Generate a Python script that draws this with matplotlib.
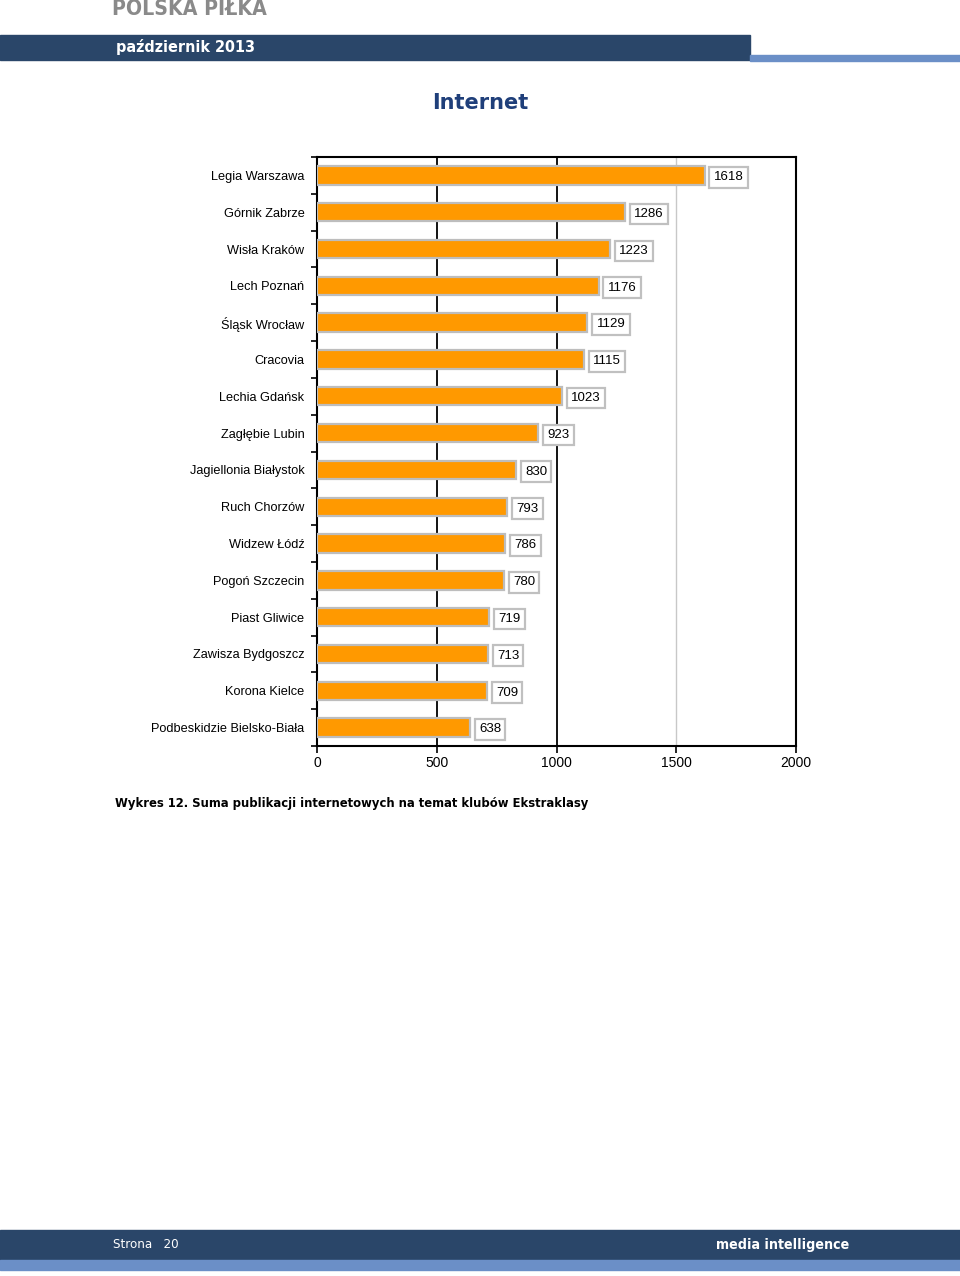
import matplotlib.pyplot as plt
from matplotlib.patches import Rectangle

clubs = ["Legia Warszawa", "Górnik Zabrze", "Wisła Kraków", "Lech Poznań",
         "Śląsk Wrocław", "Cracovia", "Lechia Gdańsk", "Zagłębie Lubin",
         "Jagiellonia Białystok", "Ruch Chorzów", "Widzew Łódź", "Pogoń Szczecin",
         "Piast Gliwice", "Zawisza Bydgoszcz", "Korona Kielce",
         "Podbeskidzie Bielsko-Biała"]
values = [1618, 1286, 1223, 1176, 1129, 1115, 1023, 923,
          830, 793, 786, 780, 719, 713, 709, 638]
xticks = [0, 500, 1000, 1500, 2000]

dark_blue = "#2a4669"
light_blue = "#6b8fc7"

fig = plt.figure(figsize=(9.6, 12.76), dpi=100)

# header / footer bands
W, H = 960, 1276
def band(x0, y0, x1, y1, color):
    fig.patches.append(Rectangle((x0 / W, 1 - y1 / H), (x1 - x0) / W, (y1 - y0) / H,
                                 transform=fig.transFigure, color=color, zorder=0))

band(0, 35, 750, 60, dark_blue)
band(750, 55, 960, 61, light_blue)
band(0, 1230, 960, 1260, dark_blue)
band(0, 1260, 960, 1270, light_blue)

fig.text(112 / W, 1 - 9 / H, "POLSKA PIŁKA", color="#8a8a8a", fontsize=15.2,
         fontweight="bold", va="center", fontstretch="condensed")
fig.text(116 / W, 1 - 47 / H, "październik 2013", color="white", fontsize=11.5,
         fontweight="bold", va="center", fontstretch="condensed")
fig.text(0.5, 1 - 103 / H, "Internet", color="#1f3f7a", fontsize=15,
         fontweight="bold", ha="center", va="center")
fig.text(115 / W, 1 - 804 / H, "Wykres 12. Suma publikacji internetowych na temat klubów Ekstraklasy",
         fontsize=8.4, fontweight="bold", va="center")
fig.text(113 / W, 1 - 1244 / H, "Strona   20", color="white", fontsize=9.5,
         va="center", fontstretch="condensed")
fig.text(849 / W, 1 - 1245 / H, "media intelligence", color="white", fontsize=10.2,
         fontweight="bold", va="center", ha="right", fontstretch="condensed")

ax = fig.add_axes([317 / W, 1 - 746 / H, (796 - 317) / W, (746 - 157) / H])
ypos = list(range(len(clubs)))
ax.barh(ypos, values, height=0.5, color="#ff9900", edgecolor="#bdbdbd",
        linewidth=1.6, zorder=3)
for y, v in zip(ypos, values):
    ax.text(v + 38, y + 0.05, str(v), va="center", ha="left", fontsize=9.5,
            family="Liberation Sans", zorder=4,
            bbox=dict(boxstyle="square,pad=0.33", fc="white", ec="#c0c0c0", lw=1.6))

ax.set_xlim(0, 2000)
ax.set_ylim(len(clubs) - 0.5, -0.5)
ax.set_xticks(xticks)
ax.set_xticklabels([str(t) for t in xticks], family="Liberation Sans", fontsize=10)
ax.set_yticks(ypos)
ax.set_yticklabels(clubs, family="Liberation Sans", fontsize=9.2)
ax.tick_params(axis="y", length=0, pad=9)
ax.set_yticks([i - 0.5 for i in range(len(clubs) + 1)], minor=True)
ax.tick_params(axis="y", which="minor", length=4, width=1.2)
ax.tick_params(axis="x", length=5, width=1.2, pad=2)
ax.axvline(500, color="black", lw=1.3, zorder=1)
ax.axvline(1000, color="black", lw=1.3, zorder=1)
ax.axvline(1500, color="#c8c8c8", lw=1.0, zorder=1)
for s in ax.spines.values():
    s.set_linewidth(1.5)

fig.savefig("out.png", dpi=100)
